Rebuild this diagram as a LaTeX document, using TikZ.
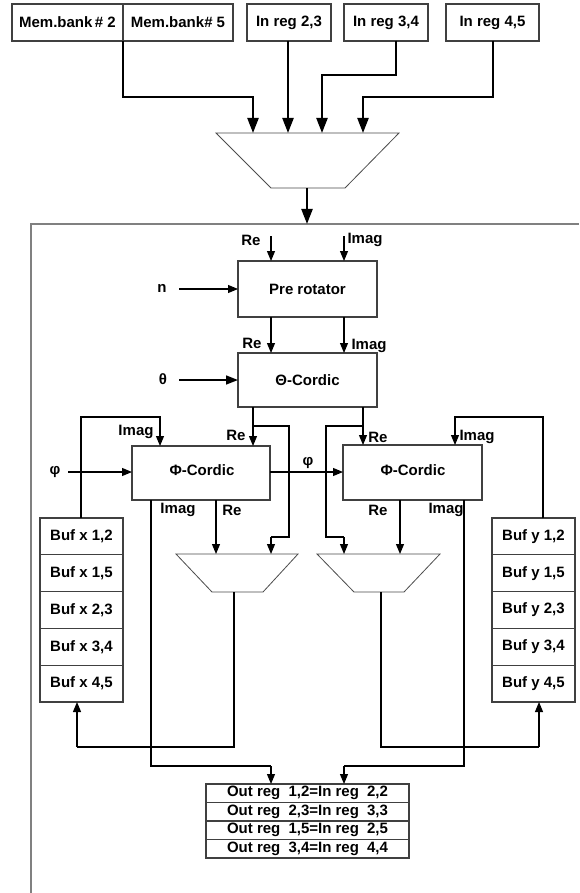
\documentclass[tikz,border=0pt]{standalone}
\usepackage{fontspec}
\setmainfont{Liberation Sans}
\usetikzlibrary{arrows.meta}
\begin{document}
\begin{tikzpicture}[x=1pt,y=-1pt,
  txt/.style={font=\bfseries\fontsize{15}{17}\selectfont},
  box/.style={txt,draw=black!75,line width=1.1pt,inner sep=0pt,outer sep=0pt},
  lbl/.style={txt,inner sep=0pt},
  big/.style={line width=2.3pt,-{Triangle[length=15pt,width=11pt]}},
  med/.style={line width=1.6pt,-{Triangle[length=12pt,width=9pt]}},
  arr/.style={line width=1.1pt,-{Triangle[length=10pt,width=8pt]}},
  wire/.style={line width=1.1pt},
  mux/.style={draw=black!70,line width=0.8pt},
  frame/.style={draw=black!50,line width=1.8pt}]
\useasboundingbox (0,0) rectangle (579,893);
\fill[white] (0,0) rectangle (579,893);
% frame
\draw[frame] (31,893) -- (31,224) -- (579,224);
% top boxes
\node[box,minimum width=111pt,minimum height=37pt] (mb2) at (67.5,22.5) {Mem.bank\,\# 2};
\node[box,minimum width=110pt,minimum height=37pt] (mb5) at (178,22.5) {Mem.bank\# 5};
\node[box,minimum width=84pt,minimum height=37pt] (ir23) at (289,22.5) {In reg 2,3};
\node[box,minimum width=84pt,minimum height=37pt] (ir34) at (386,22.5) {In reg 3,4};
\node[box,minimum width=93pt,minimum height=37pt] (ir45) at (492.5,22.5) {In reg 4,5};
% top mux
\draw[mux] (216,133) -- (399,133) -- (345,188) -- (271,188) -- cycle;
\coordinate (m1a) at (253,133);
\coordinate (m1b) at (288,133);
\coordinate (m1c) at (322,133);
\coordinate (m1d) at (363,133);
\coordinate (m1o) at (307,188);
\coordinate (fin) at (307,224);
\draw[big] (mb5.south west) |- (253,97) -- (m1a);
\draw[big] (ir23.south -| m1b) -- (m1b);
\draw[big] (ir34.south -| 396,0) |- (322,75) -- (m1c);
\draw[big] (ir45.south -| 493,0) |- (363,97) -- (m1d);
\draw[big] (m1o) -- (fin);
% pre rotator and theta cordic
\node[box,minimum width=139pt,minimum height=56pt] (pre) at (307.5,289) {Pre rotator};
\node[box,minimum width=139pt,minimum height=54pt] (th) at (307.5,380) {Θ-Cordic};
\coordinate (reIn) at (271,236);
\coordinate (imIn) at (344,236);
\node[lbl] (lre1) at (251,240) {Re};
\node[lbl] (lim1) at (365,240) {Imag};
\draw[arr] (reIn) -- (reIn |- pre.north);
\draw[arr] (imIn) -- (imIn |- pre.north);
\node[lbl] (ln) at (162,288) {n};
\coordinate (nIn) at (179,289);
\draw[arr] (nIn) -- (pre.west);
\draw[arr] (pre.south -| reIn) -- (th.north -| reIn);
\draw[arr] (pre.south -| imIn) -- (th.north -| imIn);
\node[lbl] (lre2) at (252,343) {Re};
\node[lbl] (lim2) at (369,346) {Imag};
\node[lbl] (lth) at (163,379) {θ};
\coordinate (thIn) at (179,380);
\draw[med] (thIn) -- (th.west);
% phi cordics
\node[box,minimum width=138pt,minimum height=54pt] (phL) at (201,473) {};
\node[lbl] (tphL) at (202,470) {Φ-Cordic};
\node[box,minimum width=139pt,minimum height=55pt] (phR) at (412.5,472.5) {};
\node[lbl] (tphR) at (413,470) {Φ-Cordic};
% lower muxes
\draw[mux] (176,554) -- (298,554) -- (263,592) -- (212,592) -- cycle;
\draw[mux] (317,554) -- (440,554) -- (404,592) -- (354,592) -- cycle;
\coordinate (mLa) at (216,554);
\coordinate (mLb) at (271,554);
\coordinate (mLo) at (234,592);
\coordinate (mRa) at (344,554);
\coordinate (mRb) at (400,554);
\coordinate (mRo) at (381,592);
% buffers
\node[box,minimum width=83pt,minimum height=36.8pt] (bx1) at (81.5,536.4) {Buf x 1,2};
\node[box,minimum width=83pt,minimum height=36.8pt] (bx2) at (81.5,573.2) {Buf x 1,5};
\node[box,minimum width=83pt,minimum height=36.8pt] (bx3) at (81.5,610) {Buf x 2,3};
\node[box,minimum width=83pt,minimum height=36.8pt] (bx4) at (81.5,646.8) {Buf x 3,4};
\node[box,minimum width=83pt,minimum height=36.8pt] (bx5) at (81.5,683.6) {Buf x 4,5};
\node[box,minimum width=83pt,minimum height=36.8pt] (by1) at (533.5,536.4) {Buf y 1,2};
\node[box,minimum width=83pt,minimum height=36.8pt] (by2) at (533.5,573.2) {Buf y 1,5};
\node[box,minimum width=83pt,minimum height=36.8pt] (by3) at (533.5,610) {Buf y 2,3};
\node[box,minimum width=83pt,minimum height=36.8pt] (by4) at (533.5,646.8) {Buf y 3,4};
\node[box,minimum width=83pt,minimum height=36.8pt] (by5) at (533.5,683.6) {Buf y 4,5};
% output registers
\node[box,minimum width=203pt,minimum height=18.5pt] (o1) at (307.5,793.25) {Out reg\hspace{4pt} 1,2=In reg\hspace{4pt} 2,2};
\node[box,minimum width=203pt,minimum height=18.5pt] (o2) at (307.5,811.75) {Out reg\hspace{4pt} 2,3=In reg\hspace{4pt} 3,3};
\node[box,minimum width=203pt,minimum height=18.5pt] (o3) at (307.5,830.25) {Out reg\hspace{4pt} 1,5=In reg\hspace{4pt} 2,5};
\node[box,minimum width=203pt,minimum height=18.5pt] (o4) at (307.5,848.75) {Out reg\hspace{4pt} 3,4=In reg\hspace{4pt} 4,4};
% theta -> phi
\coordinate (tL) at (253,407);
\coordinate (tR) at (363,407);
\draw[arr] (tL) -- (tL |- phL.north);
\draw[arr] (tR) -- (tR |- phR.north);
\draw[wire] (253,426) -- (289,426) -- (289,537) -- (271,537);
\draw[arr] (271,537) -- (mLb);
\draw[wire] (363,426) -- (326,426) -- (326,537) -- (344,537);
\draw[arr] (344,537) -- (mRa);
\node[lbl] (lre3) at (236,435) {Re};
\node[lbl] (lre4) at (378,437) {Re};
% feedback imag
\draw[arr] (bx1.north -| 81,0) |- (160,417) -- (160,446);
\draw[arr] (by1.north -| 543,0) |- (455,417) -- (455,445);
\node[lbl] (lim3) at (136,432) {Imag};
\node[lbl] (lim4) at (477,437) {Imag};
% phi inputs
\node[lbl] (lph1) at (55,472) {φ};
\coordinate (phIn) at (68,472);
\draw[arr] (phIn) -- (phL.west |- phIn);
\draw[arr] (phL.east |- phIn) -- (phR.west |- phIn);
\node[lbl] (lph2) at (308,463) {φ};
% phi outputs
\draw[wire] (phL.south -| 151,0) -- (151,766) -- (271,766);
\draw[arr] (271,766) -- (o1.north -| 271,0);
\draw[arr] (phL.south -| mLa) -- (mLa);
\draw[arr] (phR.south -| mRb) -- (mRb);
\draw[wire] (phR.south -| 464,0) -- (464,766) -- (344,766);
\draw[arr] (344,766) -- (o1.north -| 344,0);
\node[lbl] (lim5) at (178,510) {Imag};
\node[lbl] (lre5) at (232,510) {Re};
\node[lbl] (lre6) at (378,510) {Re};
\node[lbl] (lim6) at (446,510) {Imag};
% mux outputs to buffers
\draw[wire] (mLo) -- (234,747) -- (77,747);
\draw[arr] (77,747) -- (bx5.south -| 77,0);
\draw[wire] (mRo) -- (381,747) -- (539,747);
\draw[arr] (539,747) -- (by5.south -| 539,0);
\end{tikzpicture}
\end{document}
